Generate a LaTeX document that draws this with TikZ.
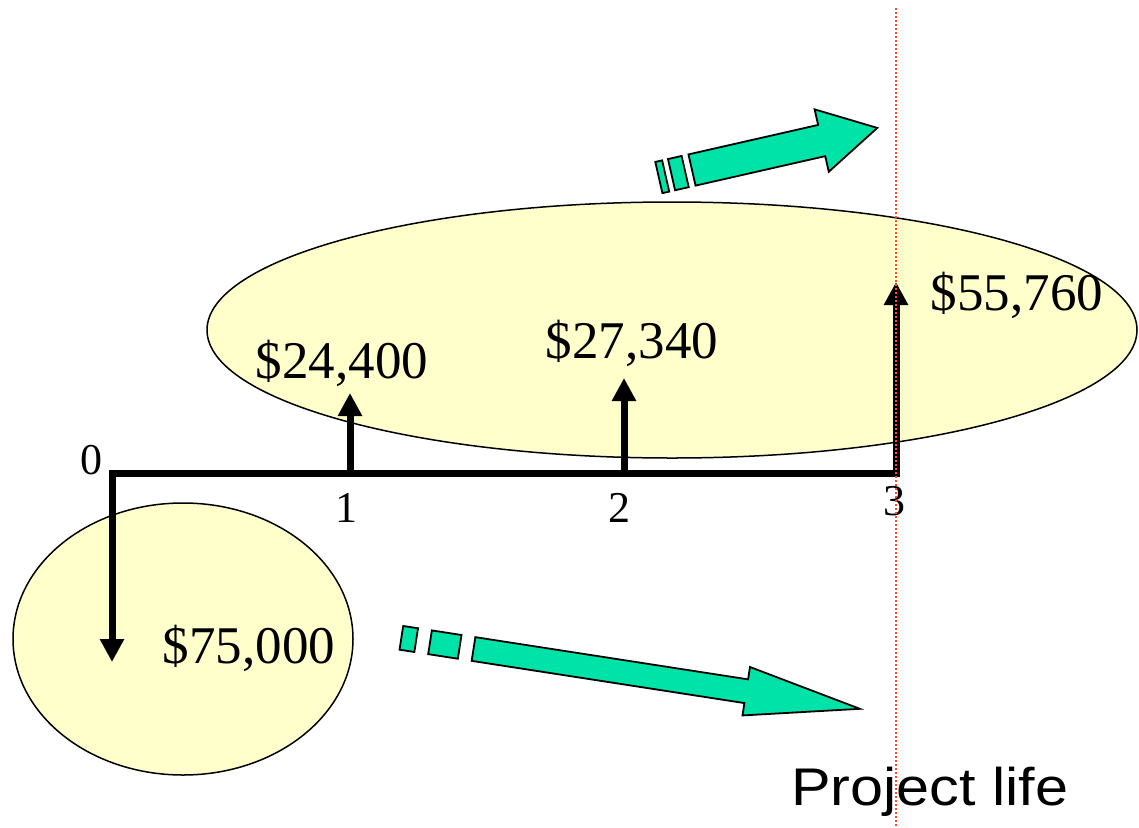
\documentclass[tikz,border=0pt]{standalone}
\usepackage{fontspec}
\setmainfont{Liberation Serif}
\newfontfamily\plfont{Liberation Sans}
\usetikzlibrary{arrows.meta}
\definecolor{ellfill}{HTML}{FFFFCC}
\definecolor{grn}{HTML}{00E3A8}
\definecolor{dotred}{HTML}{FF4A2A}
\tikzset{
  ell/.style={draw=black, line width=1.5pt, fill=ellfill},
  timeline/.style={line width=7pt, line join=miter},
  tip/.style={-{Triangle[width=23pt,length=23pt]}},
  bigtxt/.style={font=\fontsize{53}{60}\selectfont, inner sep=0pt, anchor=base},
  numtxt/.style={font=\fontsize{44}{50}\selectfont, inner sep=0pt, anchor=base},
  garrow/.style={draw=black, line width=1.8pt, fill=grn, line join=miter},
  life/.style={draw=dotred, line width=1.6pt, dash pattern=on 1.6pt off 2.4pt}
}
\begin{document}
\begin{tikzpicture}[x=1pt,y=-1pt]
\useasboundingbox (0,0) rectangle (1139,827);
% ellipses
\draw[ell] (672,330) ellipse [x radius=465, y radius=128];
\draw[ell] (183,639) ellipse [x radius=170, y radius=136];
% coordinates
\coordinate (t0) at (112,473);
\coordinate (t1) at (350,473);
\coordinate (t2) at (624,473);
\coordinate (t3) at (896,473);
\coordinate (d0) at (112,662);
\coordinate (u1) at (350,393);
\coordinate (u2) at (624,378);
\coordinate (u3) at (896,282);
% timeline
\draw[timeline, {Triangle[width=23pt,length=23pt]}-{Triangle[width=23pt,length=23pt]}] (d0) -- (t0) -- (t3) -- (u3);
\draw[timeline, tip] (t1) -- (u1);
\draw[timeline, tip] (t2) -- (u2);
% labels
\node[numtxt] (l0) at (91,474) {0};
\node[numtxt] (l1) at (346,522) {1};
\node[numtxt] (l2) at (619,522) {2};
\node[numtxt] (l3) at (894,515) {3};
\node[bigtxt] (a1) at (342,378) {\$24,400};
\node[bigtxt] (a2) at (632,358) {\$27,340};
\node[bigtxt] (a3) at (1017,310) {\$55,760};
\node[bigtxt] (a0) at (249,663) {\$75,000};
% upper green arrow
\begin{scope}[shift={(692,170)}, rotate=12.8]
  \draw[garrow] (-34,-16) -- (-27,-16) -- (-27,16) -- (-34,16) -- cycle;
  \draw[garrow] (-21,-16) -- (-7,-16) -- (-7,16) -- (-21,16) -- cycle;
  \draw[garrow] (0,-16) -- (133,-16) -- (133,-32) -- (190,0) -- (133,32) -- (133,16) -- (0,16) -- cycle;
\end{scope}
% lower green arrow
\begin{scope}[shift={(473.5,649)}, rotate=-8.8]
  \draw[garrow] (-73,-12) -- (-58,-12) -- (-58,12) -- (-73,12) -- cycle;
  \draw[garrow] (-44,-12) -- (-14,-12) -- (-14,12) -- (-44,12) -- cycle;
  \draw[garrow] (0,-12) -- (276,-12) -- (276,-24.5) -- (391,0) -- (276,24.5) -- (276,12) -- (0,12) -- cycle;
\end{scope}
% project life
\node[inner sep=0pt, anchor=base west] (pl) at (791,805) {\scalebox{1.12}[1]{\plfont\fontsize{53}{60}\selectfont Project life}};
\coordinate (lt) at (896,8);
\coordinate (lb) at (896,827);
\draw[life] (lt) -- (lb);
\end{tikzpicture}
\end{document}
